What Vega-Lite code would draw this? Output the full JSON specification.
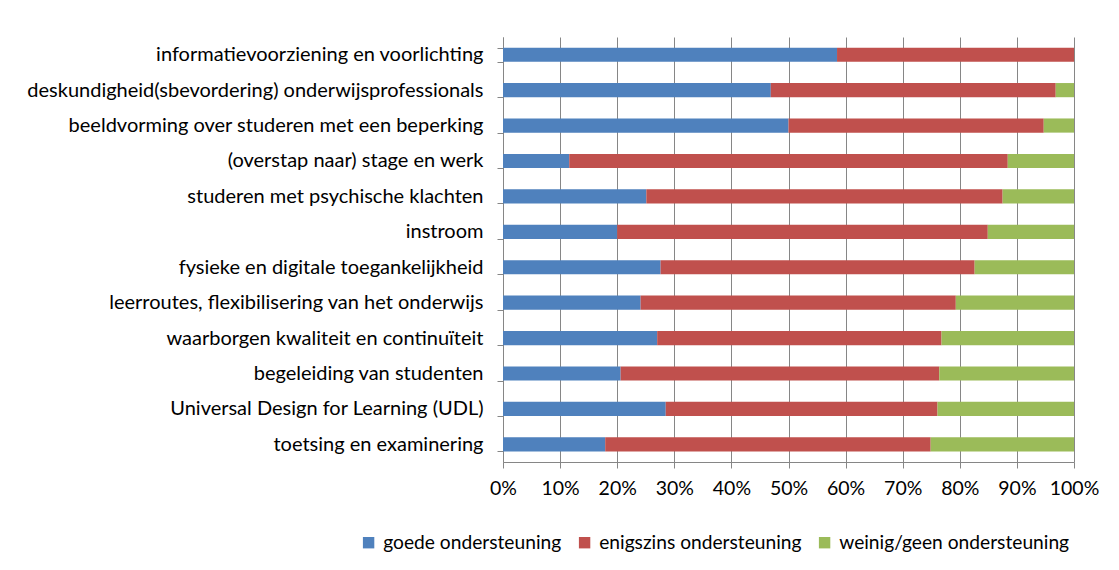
{
  "$schema": "https://vega.github.io/schema/vega-lite/v6.json",
  "width": 571,
  "height": 425,
  "autosize": {"type": "none"},
  "padding": {"left": 503, "top": 37, "right": 45, "bottom": 108},
  "background": "white",
  "data": {
    "values": [
      {"cat": "informatievoorziening en voorlichting", "type": "goede ondersteuning", "k": 1, "v": 58.5},
      {"cat": "informatievoorziening en voorlichting", "type": "enigszins ondersteuning", "k": 2, "v": 41.5},
      {"cat": "informatievoorziening en voorlichting", "type": "weinig/geen ondersteuning", "k": 3, "v": 0},
      {"cat": "deskundigheid(sbevordering) onderwijsprofessionals", "type": "goede ondersteuning", "k": 1, "v": 46.9},
      {"cat": "deskundigheid(sbevordering) onderwijsprofessionals", "type": "enigszins ondersteuning", "k": 2, "v": 49.9},
      {"cat": "deskundigheid(sbevordering) onderwijsprofessionals", "type": "weinig/geen ondersteuning", "k": 3, "v": 3.2},
      {"cat": "beeldvorming over studeren met een beperking", "type": "goede ondersteuning", "k": 1, "v": 50.0},
      {"cat": "beeldvorming over studeren met een beperking", "type": "enigszins ondersteuning", "k": 2, "v": 44.7},
      {"cat": "beeldvorming over studeren met een beperking", "type": "weinig/geen ondersteuning", "k": 3, "v": 5.3},
      {"cat": "(overstap naar) stage en werk", "type": "goede ondersteuning", "k": 1, "v": 11.6},
      {"cat": "(overstap naar) stage en werk", "type": "enigszins ondersteuning", "k": 2, "v": 76.8},
      {"cat": "(overstap naar) stage en werk", "type": "weinig/geen ondersteuning", "k": 3, "v": 11.6},
      {"cat": "studeren met psychische klachten", "type": "goede ondersteuning", "k": 1, "v": 25.1},
      {"cat": "studeren met psychische klachten", "type": "enigszins ondersteuning", "k": 2, "v": 62.4},
      {"cat": "studeren met psychische klachten", "type": "weinig/geen ondersteuning", "k": 3, "v": 12.5},
      {"cat": "instroom", "type": "goede ondersteuning", "k": 1, "v": 20.0},
      {"cat": "instroom", "type": "enigszins ondersteuning", "k": 2, "v": 64.9},
      {"cat": "instroom", "type": "weinig/geen ondersteuning", "k": 3, "v": 15.1},
      {"cat": "fysieke en digitale toegankelijkheid", "type": "goede ondersteuning", "k": 1, "v": 27.6},
      {"cat": "fysieke en digitale toegankelijkheid", "type": "enigszins ondersteuning", "k": 2, "v": 55.0},
      {"cat": "fysieke en digitale toegankelijkheid", "type": "weinig/geen ondersteuning", "k": 3, "v": 17.4},
      {"cat": "leerroutes, flexibilisering van het onderwijs", "type": "goede ondersteuning", "k": 1, "v": 24.1},
      {"cat": "leerroutes, flexibilisering van het onderwijs", "type": "enigszins ondersteuning", "k": 2, "v": 55.2},
      {"cat": "leerroutes, flexibilisering van het onderwijs", "type": "weinig/geen ondersteuning", "k": 3, "v": 20.7},
      {"cat": "waarborgen kwaliteit en continuïteit", "type": "goede ondersteuning", "k": 1, "v": 27.0},
      {"cat": "waarborgen kwaliteit en continuïteit", "type": "enigszins ondersteuning", "k": 2, "v": 49.8},
      {"cat": "waarborgen kwaliteit en continuïteit", "type": "weinig/geen ondersteuning", "k": 3, "v": 23.2},
      {"cat": "begeleiding van studenten", "type": "goede ondersteuning", "k": 1, "v": 20.6},
      {"cat": "begeleiding van studenten", "type": "enigszins ondersteuning", "k": 2, "v": 55.8},
      {"cat": "begeleiding van studenten", "type": "weinig/geen ondersteuning", "k": 3, "v": 23.6},
      {"cat": "Universal Design for Learning (UDL)", "type": "goede ondersteuning", "k": 1, "v": 28.5},
      {"cat": "Universal Design for Learning (UDL)", "type": "enigszins ondersteuning", "k": 2, "v": 47.6},
      {"cat": "Universal Design for Learning (UDL)", "type": "weinig/geen ondersteuning", "k": 3, "v": 23.9},
      {"cat": "toetsing en examinering", "type": "goede ondersteuning", "k": 1, "v": 17.9},
      {"cat": "toetsing en examinering", "type": "enigszins ondersteuning", "k": 2, "v": 57.0},
      {"cat": "toetsing en examinering", "type": "weinig/geen ondersteuning", "k": 3, "v": 25.1}
    ]
  },
  "mark": {"type": "bar"},
  "encoding": {
    "y": {
      "field": "cat",
      "type": "nominal",
      "sort": null,
      "scale": {"paddingInner": 0.6, "paddingOuter": 0.3},
      "axis": {
        "title": null,
        "tickBand": "extent",
        "tickExtra": true,
        "tickSize": 6,
        "tickColor": "#868686",
        "domainColor": "#868686",
        "labelPadding": 14,
        "labelFont": "Lato",
        "labelFontSize": 20,
        "labelColor": "#000000",
        "labelLimit": 600,
        "grid": false
      }
    },
    "x": {
      "field": "v",
      "type": "quantitative",
      "stack": "normalize",
      "scale": {"domain": [0, 1], "nice": false},
      "axis": {
        "title": null,
        "values": [0, 0.1, 0.2, 0.3, 0.4, 0.5, 0.6, 0.7, 0.8, 0.9, 1],
        "format": ".0%",
        "grid": true,
        "gridColor": "#868686",
        "gridWidth": 1,
        "gridOpacity": 1,
        "tickSize": 6,
        "tickColor": "#868686",
        "domainColor": "#868686",
        "labelPadding": 11,
        "labelFont": "Lato",
        "labelFontSize": 19.5,
        "labelColor": "#000000",
        "labelFlush": false
      }
    },
    "color": {
      "field": "type",
      "type": "nominal",
      "sort": ["goede ondersteuning", "enigszins ondersteuning", "weinig/geen ondersteuning"],
      "scale": {
        "domain": ["goede ondersteuning", "enigszins ondersteuning", "weinig/geen ondersteuning"],
        "range": ["#4F81BD", "#C0504D", "#9BBB59"]
      },
      "legend": {
        "title": null,
        "orient": "none",
        "direction": "horizontal",
        "legendX": -144,
        "legendY": 496,
        "padding": 0,
        "symbolType": "square",
        "symbolSize": 130,
        "symbolStrokeWidth": 0,
        "symbolOpacity": 1,
        "labelOffset": 5,
        "columnPadding": 13,
        "labelFont": "Lato",
        "labelFontSize": 19.2,
        "labelColor": "#000000",
        "labelLimit": 400
      }
    },
    "order": {"field": "k", "type": "quantitative"}
  },
  "config": {
    "view": {"stroke": null},
    "axis": {"ticks": true}
  }
}
